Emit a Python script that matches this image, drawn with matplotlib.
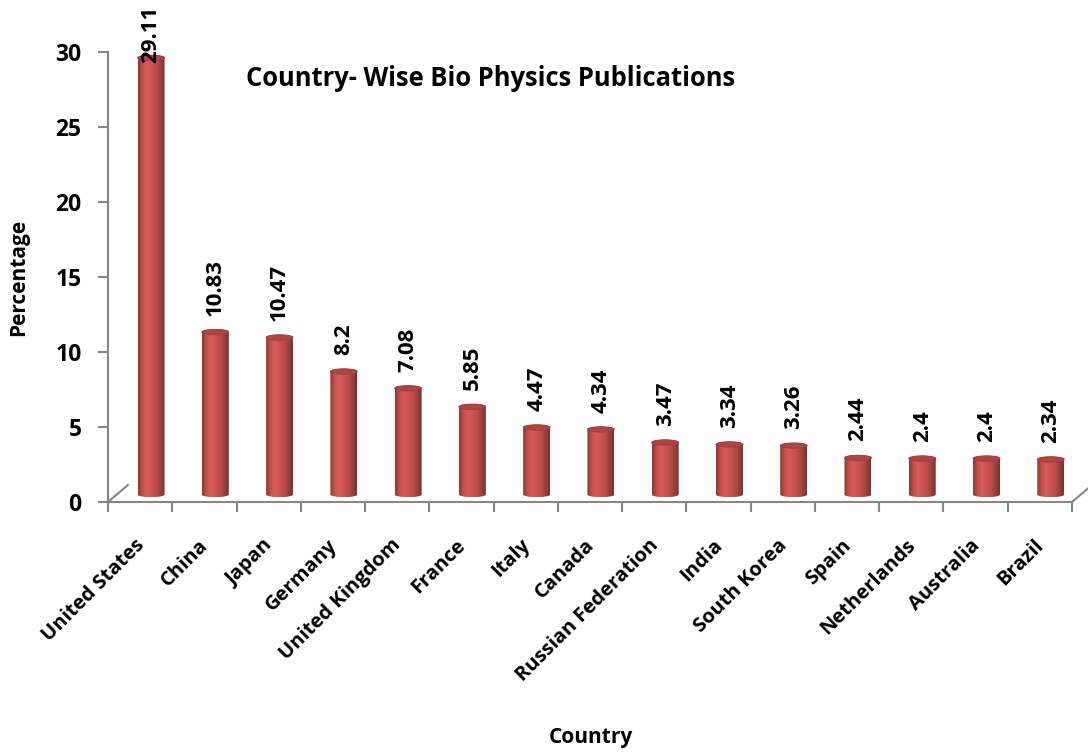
import numpy as np
import matplotlib
matplotlib.use("Agg")
import matplotlib.pyplot as plt
import matplotlib.transforms as mtransforms
from matplotlib.path import Path
from matplotlib.patches import Ellipse, PathPatch
from matplotlib.colors import LinearSegmentedColormap

plt.rcParams['font.family'] = ['Open Sans', 'DejaVu Sans']

countries = ["United States", "China", "Japan", "Germany", "United Kingdom",
             "France", "Italy", "Canada", "Russian Federation", "India",
             "South Korea", "Spain", "Netherlands", "Australia", "Brazil"]
values = [29.11, 10.83, 10.47, 8.2, 7.08, 5.85, 4.47, 4.34, 3.47, 3.34,
          3.26, 2.44, 2.4, 2.4, 2.34]
labels = ["29.11", "10.83", "10.47", "8.2", "7.08", "5.85", "4.47", "4.34",
          "3.47", "3.34", "3.26", "2.44", "2.4", "2.4", "2.34"]

axis_grey = "#868686"
cyl_cmap = LinearSegmentedColormap.from_list(
    "cyl", ["#8a3532", "#c4504d", "#d45d5a", "#cc5552", "#bd4d4a", "#9c403d", "#7e302e"])

fig = plt.figure(figsize=(10.88, 7.52), dpi=100)
ax = fig.add_axes([108 / 1088, 250 / 752, 964 / 1088, 450 / 752])

# 3D depth offset of the bars (data units)
dx, dy = 0.17, 0.5
bar_w = 0.42
ell_h = 0.36
label_top = 33.1   # labels that would run off the top are pushed down

grad = np.linspace(0, 1, 256).reshape(1, -1)
theta = np.linspace(0, np.pi, 60)

for i, v in enumerate(values):
    xc = i + dx
    b = dy
    t = v + dy
    rx = bar_w / 2
    ry = ell_h / 2
    # outline: lower half of bottom ellipse, then upper half of top ellipse
    bx = xc - rx * np.cos(theta)
    by = b - ry * np.sin(theta)
    tx = xc + rx * np.cos(theta)
    ty = t + ry * np.sin(theta)
    verts = np.vstack([np.column_stack([bx, by]), np.column_stack([tx, ty]),
                       [[bx[0], by[0]]]])
    codes = [Path.MOVETO] + [Path.LINETO] * (len(verts) - 2) + [Path.CLOSEPOLY]
    clip = PathPatch(Path(verts, codes), facecolor="none", edgecolor="none")
    ax.add_patch(clip)
    im = ax.imshow(grad, cmap=cyl_cmap, aspect="auto",
                   extent=[xc - rx, xc + rx, b - ry, t + ry], zorder=2)
    im.set_clip_path(clip)
    ax.add_patch(Ellipse((xc, t), bar_w, ell_h, facecolor="#ad4643",
                         edgecolor="#9a3d3a", lw=0.6, zorder=3))
    if t + 1.1 + 4.0 > label_top:
        ax.text(xc, label_top, labels[i], rotation=90, ha="center", va="top",
                fontsize=16, fontweight="bold", color="black", zorder=4, clip_on=False)
    else:
        ax.text(xc, t + 1.1, labels[i], rotation=90, ha="center", va="bottom",
                fontsize=16, fontweight="bold", color="black", zorder=4)

ax.set_xlim(-0.5, len(values) - 0.5)
ax.set_ylim(0, 30)

ax.set_yticks([0, 5, 10, 15, 20, 25, 30])
ax.set_xticks(range(len(values)))
ax.set_xticklabels(countries, rotation=45, ha="right", rotation_mode="anchor",
                   fontsize=14.5, fontweight="bold")
ax.set_xticks(np.arange(-0.5, len(values)), minor=True)
ax.tick_params(axis="x", which="major", length=0, pad=24)
ax.tick_params(axis="x", which="minor", length=7, width=1.5, color=axis_grey)
ax.tick_params(axis="y", length=7, width=1.5, color=axis_grey, labelsize=16.5, pad=12)
for lbl in ax.get_yticklabels():
    lbl.set_fontweight("bold")
shift = mtransforms.ScaledTranslation(-6 / 100, 0, fig.dpi_scale_trans)
for lbl in ax.get_xticklabels():
    lbl.set_transform(lbl.get_transform() + shift)

for s in ["top", "right"]:
    ax.spines[s].set_visible(False)
for s in ["left", "bottom"]:
    ax.spines[s].set_color(axis_grey)
    ax.spines[s].set_linewidth(1.5)

# floor depth lines
ax.plot([-0.5, -0.5 + 0.31], [0, 1.13], color=axis_grey, lw=1.5, clip_on=False)
ax.plot([14.5, 14.5 + 0.31], [0, 1.13], color=axis_grey, lw=1.5, clip_on=False)

fig.text(19 / 1088, 475 / 752, "Percentage", rotation=90, ha="center", va="center",
         fontsize=15, fontweight="bold")
fig.text(591 / 1088, 14 / 752, "Country", ha="center", va="center",
         fontsize=15, fontweight="bold")
fig.text(246 / 1088, 674 / 752, "Country- Wise Bio Physics Publications",
         ha="left", va="center", fontsize=18.4, fontweight="bold")

fig.savefig("out.png", dpi=100)
